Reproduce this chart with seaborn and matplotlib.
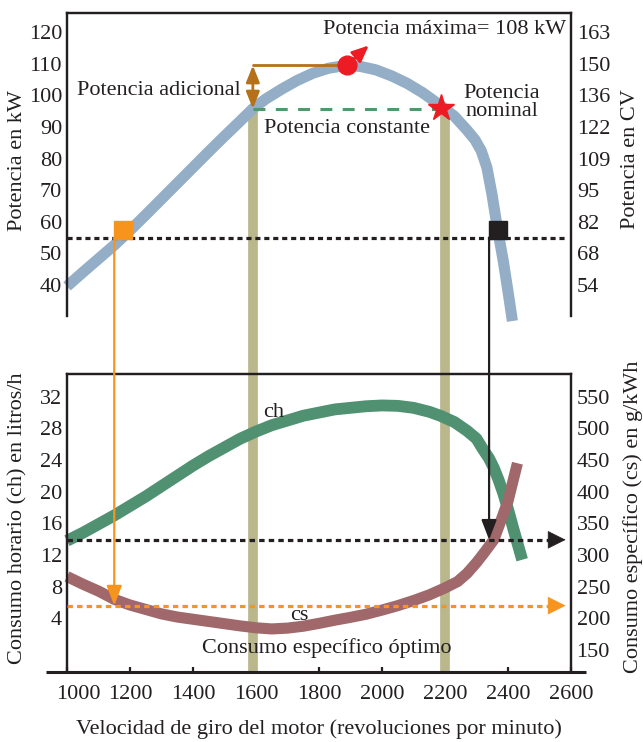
import matplotlib
matplotlib.use("Agg")
import matplotlib.pyplot as plt
import matplotlib.transforms as mtrans
import seaborn as sns
import pandas as pd

# ---------------- data ----------------
rpm_power = [1000, 1050, 1100, 1150, 1200, 1250, 1300, 1350, 1400, 1450, 1500, 1550, 1590,
             1630, 1680, 1730, 1780, 1830, 1880, 1930, 1980, 2030, 2080, 2130, 2180, 2230,
             2270, 2295, 2315, 2333, 2349, 2366, 2385, 2400, 2414]
kw_power = [39.6, 44.0, 48.3, 52.6, 57.3, 62.2, 67.2, 72.2, 77.2, 82.2, 87.1, 91.9, 95.8,
            98.8, 101.9, 104.7, 107.0, 108.6, 109.4, 109.2, 108.1, 106.2, 103.8, 100.8, 97.2,
            93.4, 89.0, 86.0, 82.5, 77.2, 68.8, 58.2, 47.6, 38.0, 28.6]

rpm_ch = [1000, 1050, 1100, 1150, 1200, 1250, 1300, 1350, 1400, 1450, 1500, 1550, 1600,
          1650, 1700, 1750, 1800, 1850, 1900, 1950, 2000, 2050, 2100, 2150, 2185, 2230,
          2270, 2300, 2320, 2340, 2355, 2370, 2385, 2400, 2415, 2430, 2445]
ch_lh = [13.8, 14.8, 15.9, 17.0, 18.2, 19.4, 20.7, 22.0, 23.3, 24.5, 25.6, 26.7, 27.6,
         28.4, 29.0, 29.6, 30.0, 30.4, 30.6, 30.8, 30.9, 30.85, 30.6, 30.1, 29.6, 28.8,
         27.7, 26.7, 25.4, 24.2, 23.0, 21.5, 19.8, 17.8, 15.6, 13.5, 11.4]

rpm_cs = [1000, 1050, 1100, 1150, 1200, 1250, 1300, 1350, 1400, 1450, 1500, 1550, 1600,
          1650, 1700, 1750, 1800, 1850, 1900, 1950, 2000, 2050, 2100, 2150, 2200, 2240,
          2270, 2300, 2322, 2340, 2355, 2370, 2386, 2400, 2410, 2420, 2430]
cs_gkwh = [266, 254, 243, 230, 221, 214, 207, 202, 198.5, 195, 191.5, 188, 185,
           183.2, 184.5, 187.5, 192, 197, 201.5, 206.5, 213, 220, 228, 237, 248, 258,
           271, 288, 302, 314, 324, 344, 366, 385, 405, 425, 445]

kw_ticks = [40, 50, 60, 70, 80, 90, 100, 110, 120]
cv_labels = ["54", "68", "82", "95", "109", "122", "136", "150", "163"]
ch_ticks = [4, 8, 12, 16, 20, 24, 28, 32]
cs_ticks = [150, 200, 250, 300, 350, 400, 450, 500, 550]
rpm_ticks = [1000, 1200, 1400, 1600, 1800, 2000, 2200, 2400, 2600]

ref_kw = 55                 # potencia de referencia (línea punteada)
rpm_low, rpm_high = 1150, 2340
rpm_band = [1590, 2200]     # zona de potencia constante
band_top_kw = [96.8, 95.6]
max_rpm, max_kw = 1888, 109.5
nom_rpm, nom_kw = 2188, 96.0
const_kw = 95.6
cs_low, cs_high = 220, 324
square_rpm = [1177, 2367]
square_kw = [57.4, 57.5]

# ---------------- style ----------------
sns.set_theme(style="white")
plt.rcParams["font.family"] = ["Liberation Serif", "DejaVu Serif"]
FS = 16
INK = "#231F20"
BLUE = "#93AEC6"
GREEN = "#4F9170"
DGREEN = "#4E9A6C"
CSCOL = "#A0686A"
OLIVE = "#B9B78B"
ORANGE = "#F7941D"
RED = "#ED1C24"
BROWN = "#B5701A"

fig = plt.figure(figsize=(6.43, 7.42), dpi=100)
ax_top = fig.add_axes([0.1042, 0.5735, 0.7838, 0.4095])
ax_bot = fig.add_axes([0.1042, 0.0943, 0.7838, 0.4016])
ax_top_r = ax_top.twinx()
ax_bot_r = ax_bot.twinx()

for a in (ax_top, ax_bot, ax_top_r, ax_bot_r):
    a.set_xlim(1000, 2600)
    for s in a.spines.values():
        s.set_color(INK)
        s.set_linewidth(1.6)

ax_top.set_ylim(30.05, 126.2)
ax_top_r.set_ylim(30.05, 126.2)
ax_bot.set_ylim(-2.79, 34.87)
ax_bot_r.set_ylim(150 + 12.5 * -2.79, 150 + 12.5 * 34.87)

# ---------------- top panel ----------------
df_p = pd.DataFrame({"rpm": rpm_power, "kw": kw_power})
for r, top in zip(rpm_band, band_top_kw):
    ax_top.plot([r, r], [top, 0], color=OLIVE, lw=7, solid_capstyle="butt",
                clip_on=False, zorder=1)
sns.lineplot(data=df_p, x="rpm", y="kw", ax=ax_top, color=BLUE, linewidth=8,
             sort=False, solid_capstyle="butt", solid_joinstyle="round",
             clip_on=False, zorder=2)
ax_top.plot([1000, 2585], [ref_kw, ref_kw], color=INK, lw=2.3,
            linestyle=(0, (1.6, 1.2)), zorder=3)
ax_top.plot([rpm_band[0], nom_rpm], [const_kw, const_kw], color=DGREEN, lw=2.2,
            linestyle=(0, (3.9, 3.4)), zorder=3)
ax_top.plot([rpm_band[0], max_rpm], [max_kw, max_kw], color=BROWN, lw=2.0, zorder=3)
ax_top.annotate("", xy=(rpm_band[0], const_kw + 0.2), xytext=(rpm_band[0], max_kw),
                arrowprops=dict(arrowstyle="<|-|>,head_length=0.5,head_width=0.2",
                                color=BROWN, lw=2.0, shrinkA=0, shrinkB=0,
                                mutation_scale=20), zorder=4)
ax_top.annotate("", xy=(1958, 115.8), xytext=(max_rpm, max_kw),
                arrowprops=dict(arrowstyle="-|>,head_length=0.5,head_width=0.22",
                                color=RED, lw=2.0, shrinkA=0, shrinkB=0,
                                mutation_scale=20), zorder=4)
ax_top.plot([max_rpm], [max_kw], marker="o", ms=13.5, color=RED, mec=RED, zorder=5,
            linestyle="none")
ax_top.plot([nom_rpm], [nom_kw], marker="*", ms=20, color=RED, mec=RED, zorder=5,
            linestyle="none")
ax_top.plot([square_rpm[0]], [square_kw[0]], marker="s", ms=13.5, color=ORANGE,
            mec=ORANGE, zorder=5, linestyle="none")
ax_top.plot([square_rpm[1]], [square_kw[1]], marker="s", ms=13.5, color=INK,
            mec=INK, zorder=5, linestyle="none")

ax_top.text(1813, 121, "Potencia máxima= 108 kW", fontsize=FS, ha="left", va="center",
            color=INK)
ax_top.text(1552, 101.6, "Potencia adicional", fontsize=FS, ha="right", va="center",
            color=INK)
ax_top.text(1890, 89.5, "Potencia constante", fontsize=FS, ha="center", va="center",
            color=INK)
ax_top.text(2380, 97.8, "Potencia\nnominal", fontsize=FS, ha="center", va="center",
            linespacing=0.95, color=INK)

ax_top.set_yticks(kw_ticks)
ax_top.set_yticklabels([str(t) for t in kw_ticks])
ax_top_r.set_yticks(kw_ticks)
ax_top_r.set_yticklabels(cv_labels)
ax_top.tick_params(axis="y", length=0, pad=3.6, labelsize=FS, labelcolor=INK)
ax_top_r.tick_params(axis="y", length=0, pad=4.3, labelsize=FS, labelcolor=INK)
for a in (ax_top, ax_top_r):
    a.tick_params(axis="x", bottom=False, labelbottom=False, top=False)
    a.spines["bottom"].set_visible(False)
    a.grid(False)
ax_top.set_xlabel("")
ax_top.set_ylabel("Potencia en kW", fontsize=FS, color=INK)
ax_top.yaxis.set_label_coords(-0.079, 0.514)
ax_top_r.set_ylabel("Potencia en CV", fontsize=FS, color=INK)
ax_top_r.yaxis.set_label_coords(1.099, 0.519)

# ---------------- bottom panel ----------------
df_ch = pd.DataFrame({"rpm": rpm_ch, "ch": ch_lh})
df_cs = pd.DataFrame({"rpm": rpm_cs, "cs": cs_gkwh})
for r in rpm_band:
    ax_bot.plot([r, r], [-2.79, 34.87], color=OLIVE, lw=7, solid_capstyle="butt",
                zorder=1)
sns.lineplot(data=df_ch, x="rpm", y="ch", ax=ax_bot, color=GREEN, linewidth=8.5,
             sort=False, solid_capstyle="butt", solid_joinstyle="round",
             clip_on=False, zorder=2)
sns.lineplot(data=df_cs, x="rpm", y="cs", ax=ax_bot_r, color=CSCOL, linewidth=8,
             sort=False, solid_capstyle="butt", solid_joinstyle="round",
             clip_on=False, zorder=2)

for val, col in ((cs_high, INK), (cs_low, ORANGE)):
    ax_bot_r.plot([1000, 2535], [val, val], color=col, lw=2.3,
                  linestyle=(0, (1.7, 1.3)), zorder=3)
    ax_bot_r.annotate("", xy=(2583, val), xytext=(2530, val),
                      arrowprops=dict(arrowstyle="-|>,head_length=0.6,head_width=0.3",
                                      color=col, lw=0.5, shrinkA=0, shrinkB=0,
                                      mutation_scale=20), zorder=4)

# vertical connectors from power curve to consumption curves
for r, val, col in ((rpm_low, cs_low, ORANGE), (rpm_high, cs_high, INK)):
    ax_bot_r.annotate("", xy=(r, val), xycoords="data",
                      xytext=(r, ref_kw), textcoords=ax_top.transData,
                      arrowprops=dict(arrowstyle="-|>,head_length=0.6,head_width=0.23",
                                      color=col, lw=1.6, shrinkA=0, shrinkB=0,
                                      mutation_scale=20),
                      annotation_clip=False, zorder=4)

ax_bot.text(1656, 30.0, "ch", fontsize=FS, ha="center", va="center", color=INK, zorder=5)
ax_bot.text(1737, 4.4, "cs", fontsize=FS, ha="center", va="center", color=INK, zorder=5)
ax_bot.text(1824, 0.3, "Consumo específico óptimo", fontsize=FS, ha="center",
            va="center", color=INK, zorder=5)

ax_bot.set_yticks(ch_ticks)
ax_bot.set_yticklabels([str(t) for t in ch_ticks])
ax_bot_r.set_yticks(cs_ticks)
ax_bot_r.set_yticklabels([str(t) for t in cs_ticks])
ax_bot.tick_params(axis="y", length=0, pad=3.6, labelsize=FS, labelcolor=INK)
ax_bot_r.tick_params(axis="y", length=0, pad=4.0, labelsize=FS, labelcolor=INK)
ax_bot.set_xticks(rpm_ticks)
ax_bot.set_xticklabels([str(t) for t in rpm_ticks])
ax_bot.tick_params(axis="x", direction="in", length=3.8, width=1.6, color=INK,
                   pad=9, labelsize=FS, labelcolor=INK, bottom=True)
for a in (ax_bot, ax_bot_r):
    a.spines["bottom"].set_visible(False)
    a.grid(False)
ax_bot.plot([-0.042, 1.03], [0, 0], transform=ax_bot.transAxes, color=INK, lw=2.2,
            clip_on=False, solid_capstyle="butt", zorder=6)

ax_bot.set_ylabel("Consumo horario (ch) en litros/h", fontsize=FS, color=INK)
ax_bot.yaxis.set_label_coords(-0.079, 0.517)
ax_bot_r.set_ylabel("Consumo específico (cs) en g/kWh", fontsize=FS, color=INK)
ax_bot_r.yaxis.set_label_coords(1.104, 0.52)
ax_bot.set_xlabel("Velocidad de giro del motor (revoluciones por minuto)",
                  fontsize=FS, color=INK)
ax_bot.xaxis.set_label_coords(0.5, -0.16)

# shift the first x tick label a little to the right, as in the original
lbl0 = ax_bot.get_xticklabels()[0]
lbl0.set_transform(lbl0.get_transform() +
                   mtrans.ScaledTranslation(0.11, 0, fig.dpi_scale_trans))

fig.savefig("out.png", dpi=100)
